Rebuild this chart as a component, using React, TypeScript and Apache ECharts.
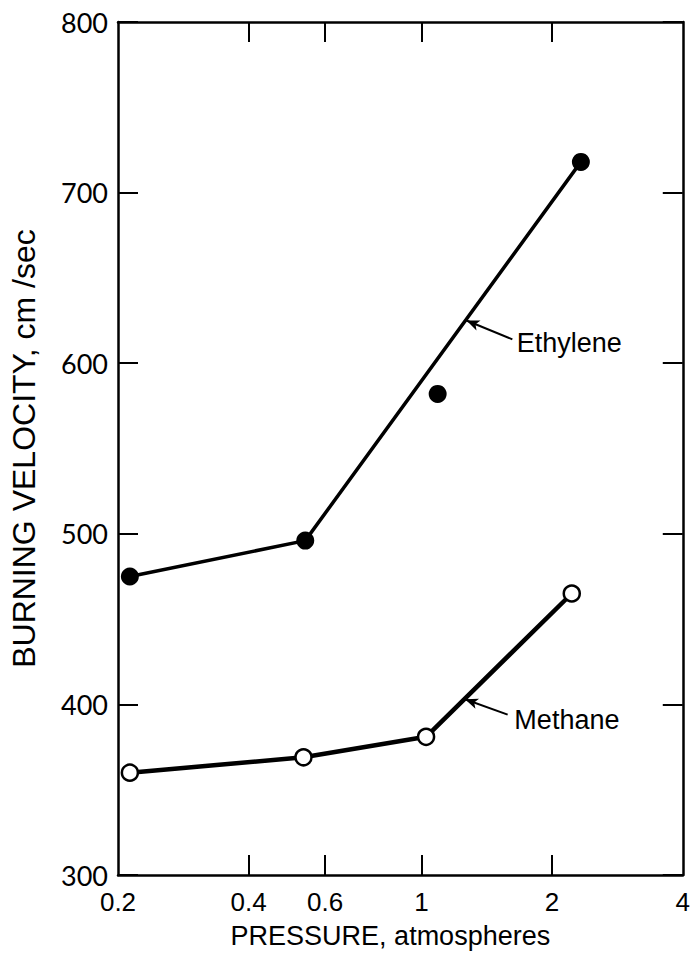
import React, { useEffect, useRef } from "react";
import * as echarts from "echarts";

// Axis ticks / labels (pressure, atm; burning velocity, cm/sec)
const xTickValues = [0.4, 0.6, 1, 2];
const xLabelValues = [0.2, 0.4, 0.6, 1, 2, 4];
const yMin = 300;
const yMax = 800;
const yStep = 100;

// Data: [pressure (atm), burning velocity (cm/sec)]
const ethyleneLine = [
  [0.213, 475],
  [0.54, 496],
  [2.33, 718],
];
const ethyleneExtra = [[1.09, 582]];
const methaneLine = [
  [0.213, 360],
  [0.535, 369],
  [1.025, 381],
  [2.22, 465],
];

// Annotation anchors (data coordinates)
const ethyleneArrowFrom = [1.62, 614];
const ethyleneArrowTo = [1.27, 625];
const ethyleneLabelAt = [1.64, 612];
const methaneArrowFrom = [1.58, 394];
const methaneArrowTo = [1.26, 403];
const methaneLabelAt = [1.62, 391];

const FONT = "'Liberation Sans', Arial, sans-serif";
const TICK_FONT = "Lato, 'Liberation Sans', sans-serif";

export default function App() {
  const ref = useRef<HTMLDivElement>(null);

  useEffect(() => {
    if (!ref.current) return;
    const chart = echarts.init(ref.current, undefined, { renderer: "svg" });
    const frameLine = { show: true, onZero: false, lineStyle: { color: "#000", width: 2.5 } };
    const tick = (vals?: number[]) => ({
      show: true,
      inside: true,
      length: 20,
      ...(vals ? { customValues: vals } : {}),
      lineStyle: { color: "#000", width: 2 },
    });
    const fmt = (v: number) => String(Number(Number(v).toPrecision(3)));

    const arrow = (from: number[], to: number[]) => ({
      silent: true,
      symbol: ["none", "arrow"],
      symbolSize: 12,
      lineStyle: { type: "solid", color: "#000", width: 2 },
      label: { show: false },
      data: [
        [
          { coord: from, symbol: "none" },
          { coord: to, symbol: "arrow", symbolSize: [8, 13] },
        ],
      ],
    });
    const label = (at: number[], text: string) => ({
      silent: true,
      symbol: "circle",
      symbolSize: 0,
      itemStyle: { color: "transparent" },
      label: {
        show: true,
        position: "right",
        distance: 2,
        formatter: text,
        color: "#000",
        fontSize: 27,
        fontFamily: FONT,
      },
      data: [{ coord: at }],
    });

    const option = {
      animation: false,
      backgroundColor: "#fff",
      grid: { left: 118, right: 6, top: 22, bottom: 88, containLabel: false },
      xAxis: [
        {
          type: "log",
          logBase: 10,
          min: 0.2,
          max: 4,
          position: "bottom",
          axisLine: frameLine,
          axisTick: tick(xTickValues),
          minorTick: { show: false },
          splitLine: { show: false },
          axisLabel: {
            show: true,
            customValues: xLabelValues,
            formatter: fmt,
            color: "#000",
            fontSize: 26,
            fontFamily: FONT,
            margin: 14,
          },
          name: "PRESSURE, atmospheres",
          nameLocation: "middle",
          nameGap: 47,
          nameTextStyle: { color: "#000", fontSize: 27, fontFamily: FONT, padding: [0, 20, 0, 0] },
        },
        {
          type: "log",
          logBase: 10,
          min: 0.2,
          max: 4,
          position: "top",
          axisLine: frameLine,
          axisTick: tick(xTickValues),
          minorTick: { show: false },
          splitLine: { show: false },
          axisLabel: { show: false },
        },
      ],
      yAxis: [
        {
          type: "value",
          min: yMin,
          max: yMax,
          interval: yStep,
          position: "left",
          axisLine: frameLine,
          axisTick: tick(),
          splitLine: { show: false },
          axisLabel: { color: "#000", fontSize: 27, fontFamily: TICK_FONT, margin: 10 },
          name: "BURNING VELOCITY, cm /sec",
          nameLocation: "middle",
          nameGap: 78,
          nameRotate: 90,
          nameTextStyle: { color: "#000", fontSize: 32, fontFamily: FONT },
        },
        {
          type: "value",
          min: yMin,
          max: yMax,
          interval: yStep,
          position: "right",
          axisLine: frameLine,
          axisTick: tick(),
          splitLine: { show: false },
          axisLabel: { show: false },
        },
      ],
      series: [
        {
          name: "Ethylene",
          type: "line",
          data: ethyleneLine,
          symbol: "circle",
          symbolSize: 18,
          itemStyle: { color: "#000", opacity: 1 },
          lineStyle: { color: "#000", width: 3.5 },
          markLine: arrow(ethyleneArrowFrom, ethyleneArrowTo),
          markPoint: label(ethyleneLabelAt, "Ethylene"),
          z: 3,
        },
        {
          name: "Ethylene (off line)",
          type: "scatter",
          data: ethyleneExtra,
          symbol: "circle",
          symbolSize: 18,
          itemStyle: { color: "#000", opacity: 1 },
          z: 3,
        },
        {
          name: "Methane",
          type: "line",
          data: methaneLine,
          symbol: "circle",
          symbolSize: 16,
          itemStyle: { color: "#fff", borderColor: "#000", borderWidth: 2.5, opacity: 1 },
          lineStyle: { color: "#000", width: 4.5 },
          markLine: arrow(methaneArrowFrom, methaneArrowTo),
          markPoint: label(methaneLabelAt, "Methane"),
          z: 3,
        },
      ],
    };
    chart.setOption(option as any);
    return () => chart.dispose();
  }, []);

  return (
    <div
      ref={ref}
      style={{ position: "fixed", left: 0, top: 0, width: 693, height: 963, background: "#fff" }}
    />
  );
}
